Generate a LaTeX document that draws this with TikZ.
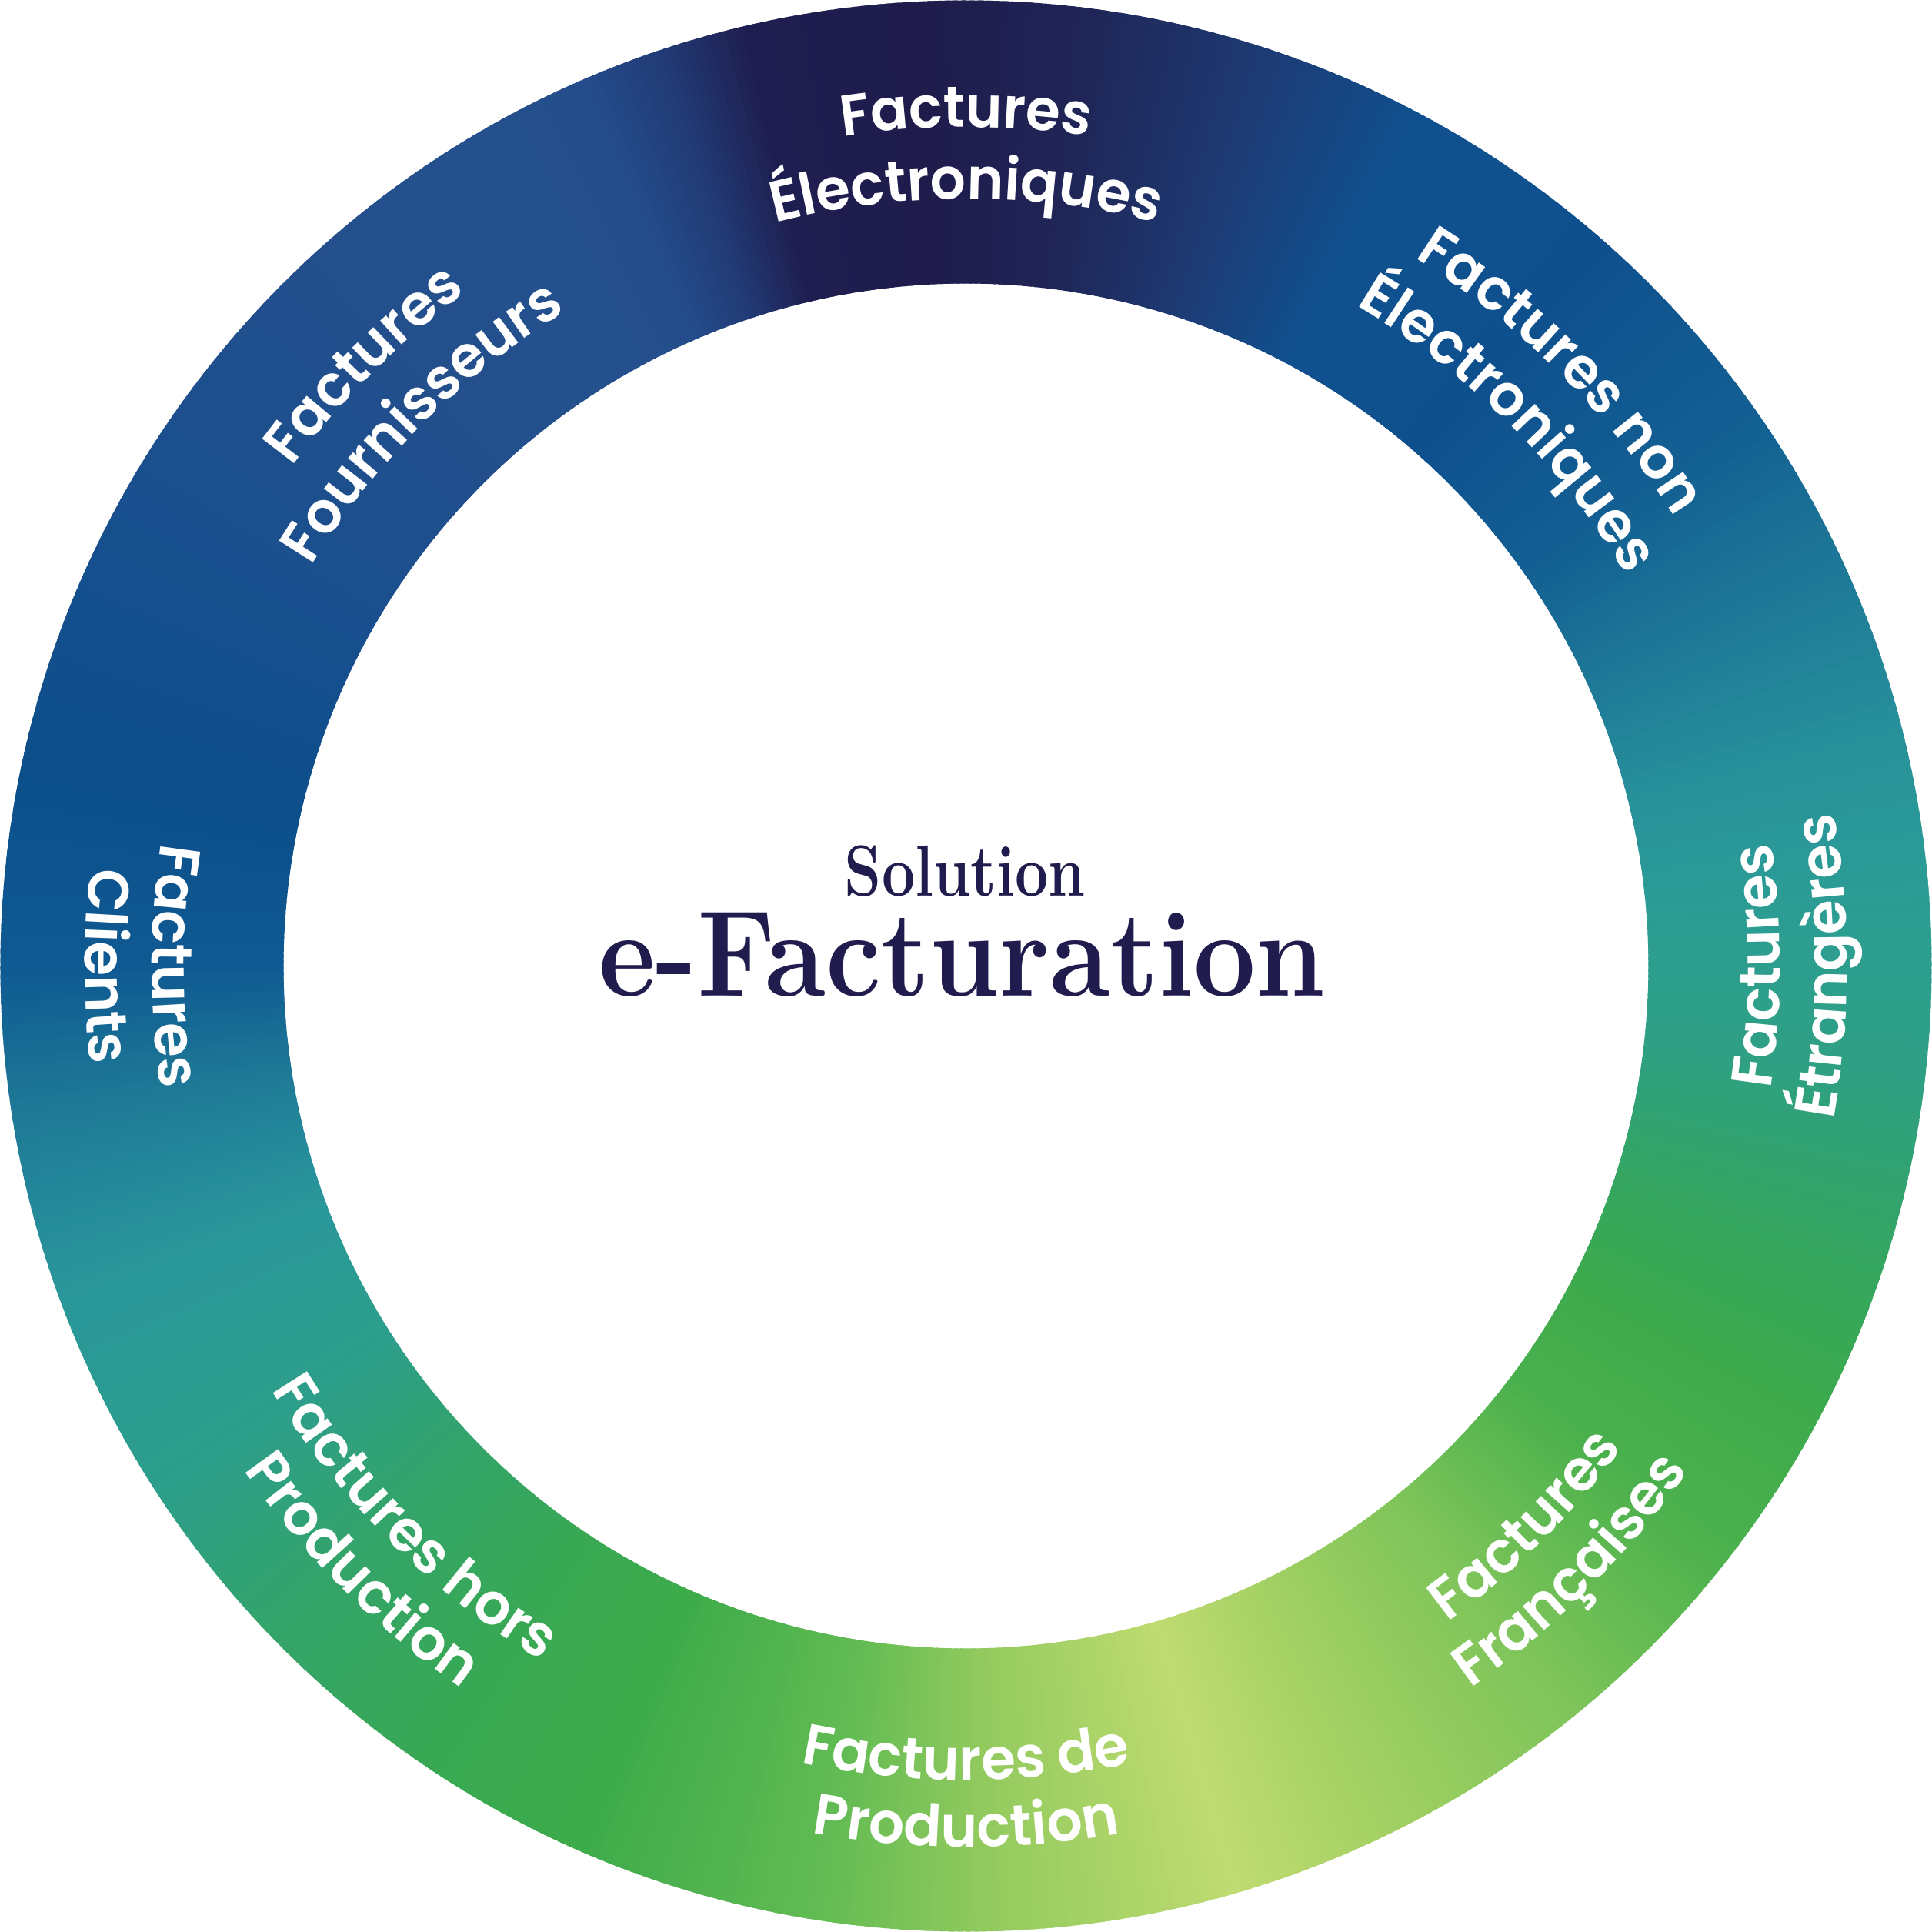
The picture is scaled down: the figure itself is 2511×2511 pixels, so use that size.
\documentclass[tikz,border=0pt]{standalone}
\usepackage{fontspec}
\usetikzlibrary{decorations.text}
\newfontfamily\labfont{Poppins SemiBold}[FakeStretch=0.97]
\definecolor{navy}{HTML}{201D4E}
\definecolor{g0}{HTML}{2D9E8E}
\definecolor{g6}{HTML}{2B9B97}
\definecolor{g14}{HTML}{27909A}
\definecolor{g23}{HTML}{1F7B98}
\definecolor{g35}{HTML}{135F93}
\definecolor{g48}{HTML}{0E508E}
\definecolor{g62}{HTML}{10508E}
\definecolor{g72}{HTML}{1E3A73}
\definecolor{g82}{HTML}{1F2657}
\definecolor{g92}{HTML}{1F1C4C}
\definecolor{g103}{HTML}{1F1E50}
\definecolor{g108}{HTML}{213A75}
\definecolor{g113}{HTML}{244C8A}
\definecolor{g120}{HTML}{24508E}
\definecolor{g132}{HTML}{234F8C}
\definecolor{g148}{HTML}{1B4F8E}
\definecolor{g168}{HTML}{0C4F8B}
\definecolor{g180}{HTML}{0F5A93}
\definecolor{g187}{HTML}{1C7495}
\definecolor{g194}{HTML}{24889A}
\definecolor{g200}{HTML}{2A979A}
\definecolor{g213}{HTML}{2D9E8A}
\definecolor{g223}{HTML}{33A46B}
\definecolor{g235}{HTML}{38A855}
\definecolor{g246}{HTML}{3DAB4A}
\definecolor{g261}{HTML}{62BB53}
\definecolor{g271}{HTML}{92CA5E}
\definecolor{g286}{HTML}{BFDB71}
\definecolor{g298}{HTML}{9CCE61}
\definecolor{g309}{HTML}{7EC45A}
\definecolor{g316}{HTML}{62BA52}
\definecolor{g322}{HTML}{4CB14D}
\definecolor{g332}{HTML}{3DAA4C}
\definecolor{g341}{HTML}{35A65E}
\definecolor{g353}{HTML}{2FA083}
\definecolor{g360}{HTML}{2D9E8E}
\newcommand\labsty{\fontsize{75}{90}\selectfont\labfont\color{white}}
\newcommand\cwlab[3]{\path[decorate,decoration={text along path,text align=center,text={|\labsty|#3}}] (#1+60:#2) arc[start angle=#1+60,end angle=#1-60,radius=#2];}
\newcommand\ccwlab[3]{\path[decorate,decoration={text along path,text align=center,text={|\labsty|#3}}] (#1-60:#2) arc[start angle=#1-60,end angle=#1+60,radius=#2];}
\begin{document}
\begin{tikzpicture}[x=1pt,y=1pt]
\useasboundingbox[fill=white] (-1255.5pt,-1255.5pt) rectangle (1255.5pt,1255.5pt);
% conic gradient ring
\foreach \a/\ca/\b/\cb in {0/g0/6/g6,6/g6/14/g14,14/g14/23/g23,23/g23/35/g35,35/g35/48/g48,48/g48/62/g62,62/g62/72/g72,72/g72/82/g82,82/g82/92/g92,92/g92/103/g103,103/g103/108/g108,108/g108/113/g113,113/g113/120/g120,120/g120/132/g132,132/g132/148/g148,148/g148/168/g168,168/g168/180/g180,180/g180/187/g187,187/g187/194/g194,194/g194/200/g200,200/g200/213/g213,213/g213/223/g223,223/g223/235/g235,235/g235/246/g246,246/g246/261/g261,261/g261/271/g271,271/g271/286/g286,286/g286/298/g298,298/g298/309/g309,309/g309/316/g316,316/g316/322/g322,322/g322/332/g332,332/g332/341/g341,341/g341/353/g353,353/g353/360/g360}{
  \pgfmathtruncatemacro\nn{2*(\b-\a)-1}
  \foreach \k in {0,...,\nn}{
    \pgfmathsetmacro\ang{\a+\k/2}
    \pgfmathsetmacro\angb{\ang+0.8}
    \pgfmathtruncatemacro\pc{round(100*\k/(2*(\b-\a)))}
    \fill[\cb!\pc!\ca] (\ang:887pt) arc[start angle=\ang,end angle=\angb,radius=887pt] -- (\angb:1255pt) arc[start angle=\angb,end angle=\ang,radius=1255pt] -- cycle;
  }
}
% labels, upper half (clockwise, tops outward)
\cwlab{90}{1090pt}{Factures}
\cwlab{90}{997pt}{Électroniques}
\cwlab{45}{1090pt}{Factures non}
\cwlab{45}{997pt}{Électroniques}
\cwlab{135}{1090pt}{Factures}
\cwlab{135}{997pt}{Fournisseurs}
% labels, lower half (counter-clockwise, tops inward)
\ccwlab{0}{1058pt}{Factures}
\ccwlab{0}{1145pt}{Étrangères}
\ccwlab{-45}{1058pt}{Factures}
\ccwlab{-45}{1145pt}{Françaises}
\ccwlab{-90}{1058pt}{Factures de}
\ccwlab{-90}{1145pt}{Production}
\ccwlab{-135}{1058pt}{Factures hors}
\ccwlab{-135}{1145pt}{Production}
\ccwlab{180}{1058pt}{Factures}
\ccwlab{180}{1145pt}{Clients}
% centre title
\node[anchor=base,inner sep=0pt,text=navy,font=\fontsize{94}{100}\selectfont\bfseries] (sol) at (-1pt,91pt) {\scalebox{0.82}[1]{Solution}};
\node[anchor=base,inner sep=0pt,text=navy,font=\fontsize{159}{170}\selectfont\bfseries] (efac) at (-5pt,-39pt) {\scalebox{0.905}[1]{e-Facturation}};
\end{tikzpicture}
\end{document}
